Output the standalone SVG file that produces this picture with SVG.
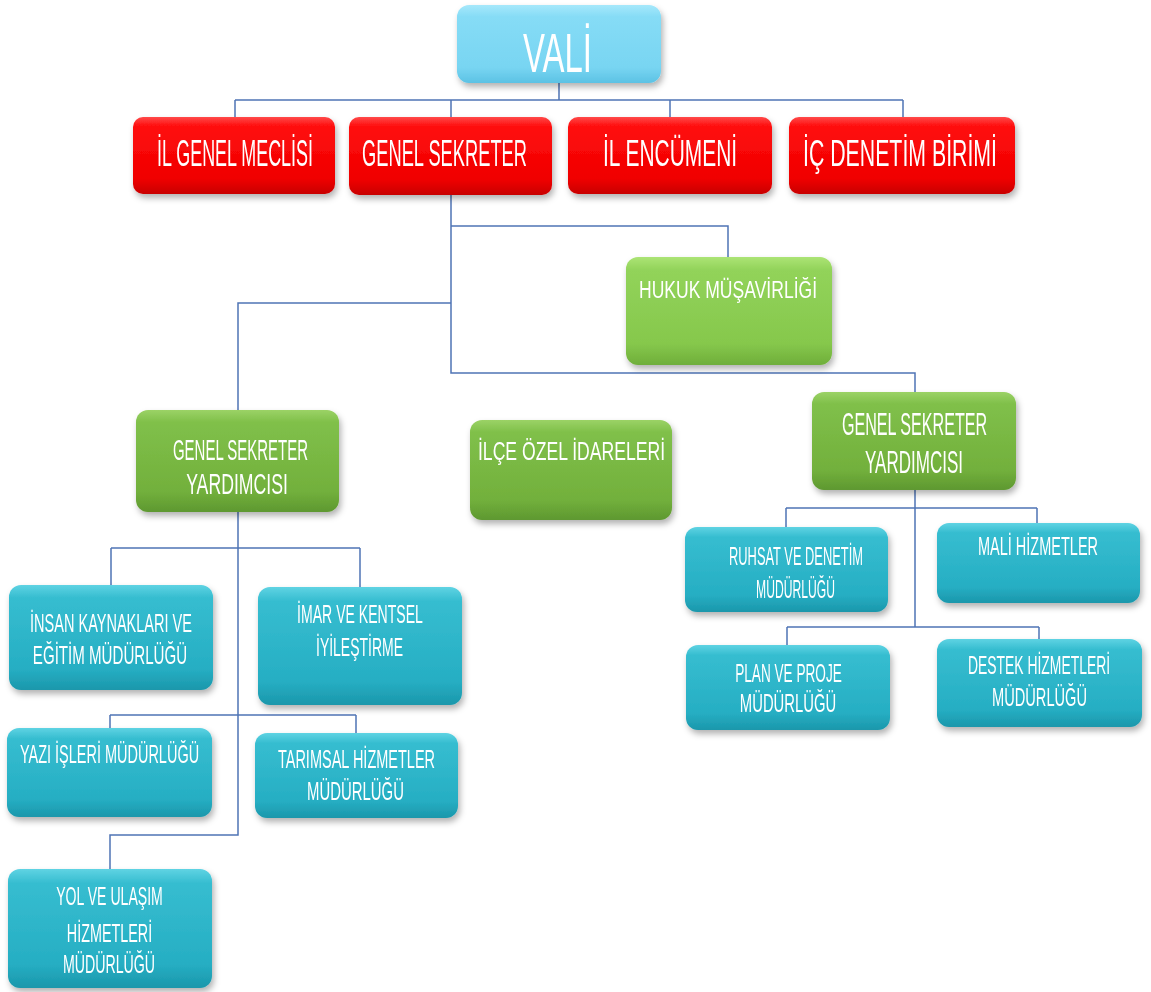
<svg xmlns="http://www.w3.org/2000/svg" width="1151" height="992" viewBox="0 0 1151 992">
<defs>
<linearGradient id="gRed" x1="0" y1="0" x2="0" y2="1"><stop offset="0" stop-color="#ff4a4a"/><stop offset="0.12" stop-color="#ff0d0d"/><stop offset="0.8" stop-color="#f00000"/><stop offset="1" stop-color="#c80000"/></linearGradient>
<linearGradient id="gBlue" x1="0" y1="0" x2="0" y2="1"><stop offset="0" stop-color="#5fd3e3"/><stop offset="0.12" stop-color="#36bdd0"/><stop offset="0.8" stop-color="#26aec3"/><stop offset="1" stop-color="#1b97ab"/></linearGradient>
<linearGradient id="gGreen" x1="0" y1="0" x2="0" y2="1"><stop offset="0" stop-color="#9bd266"/><stop offset="0.12" stop-color="#80c04a"/><stop offset="0.8" stop-color="#72b03c"/><stop offset="1" stop-color="#5e9830"/></linearGradient>
<linearGradient id="gLime" x1="0" y1="0" x2="0" y2="1"><stop offset="0" stop-color="#ace475"/><stop offset="0.12" stop-color="#92d35a"/><stop offset="0.8" stop-color="#86c84c"/><stop offset="1" stop-color="#6fae3a"/></linearGradient>
<linearGradient id="gSky" x1="0" y1="0" x2="0" y2="1"><stop offset="0" stop-color="#a6e8fb"/><stop offset="0.15" stop-color="#86dcf6"/><stop offset="0.8" stop-color="#78d5f2"/><stop offset="1" stop-color="#5cc2e4"/></linearGradient>
<filter id="sh" x="-10%" y="-10%" width="125%" height="135%"><feDropShadow dx="2" dy="4" stdDeviation="3" flood-color="#000" flood-opacity="0.3"/></filter>
</defs>
<style>
.conn{fill:none;stroke:#4f74b5;stroke-width:1.5}
.box{filter:url(#sh)}
.red{fill:url(#gRed)}
.blue{fill:url(#gBlue)}
.green{fill:url(#gGreen)}
.lime{fill:url(#gLime)}
.sky{fill:url(#gSky)}
text{font-family:"Liberation Sans",Arial,sans-serif;fill:#fff;text-anchor:middle}
.t56{font-size:56px}
.t36{font-size:36px}
.t32{font-size:32px}
.t30{font-size:30px}
.t26{font-size:26px}
.t25{font-size:25px}
.t24{font-size:24px}
</style>
<rect width="1151" height="992" fill="#fff"/>
<g id="connectors">
<path class="conn" d="M559,83 V100 M235,100 H903 M235,100 V117 M451,100 V117 M670,100 V117 M903,100 V117"/>
<path class="conn" d="M451,195 V373 H915 V392 M451,226 H728 V257 M451,303 H238 V410"/>
<path class="conn" d="M238,512 V835 H110 V869 M111,548 H360 M111,548 V585 M360,548 V587 M110,715 H356 M110,715 V728 M356,715 V733"/>
<path class="conn" d="M915,490 V627 M786,508 H1037 M786,508 V527 M1037,508 V523 M787,627 H1039 M787,627 V645 M1039,627 V639"/>
</g>
<g id="vali" class="box"><rect class="sky" x="457" y="5" width="204" height="78" rx="12"/><text class="t56" transform="translate(557.5,72) scale(0.57,1)" textLength="121" lengthAdjust="spacingAndGlyphs">VALİ</text></g>
<g id="il_genel_meclisi" class="box"><rect class="red" x="133" y="117" width="202" height="77" rx="10"/><text class="t36" transform="translate(235,166) scale(0.52,1)" textLength="300" lengthAdjust="spacingAndGlyphs">İL GENEL MECLİSİ</text></g>
<g id="genel_sekreter" class="box"><rect class="red" x="349" y="117" width="203" height="78" rx="10"/><text class="t36" transform="translate(444.5,166) scale(0.52,1)" textLength="317" lengthAdjust="spacingAndGlyphs">GENEL SEKRETER</text></g>
<g id="il_encumeni" class="box"><rect class="red" x="568" y="117" width="204" height="77" rx="10"/><text class="t36" transform="translate(670,166) scale(0.52,1)" textLength="258" lengthAdjust="spacingAndGlyphs">İL ENCÜMENİ</text></g>
<g id="ic_denetim_birimi" class="box"><rect class="red" x="789" y="117" width="226" height="77" rx="10"/><text class="t36" transform="translate(900,166) scale(0.52,1)" textLength="373" lengthAdjust="spacingAndGlyphs">İÇ DENETİM BİRİMİ</text></g>
<g id="hukuk_musavirligi" class="box"><rect class="lime" x="626" y="257" width="206" height="108" rx="12"/><text class="t24" transform="translate(728,298) scale(0.65,1)" textLength="274" lengthAdjust="spacingAndGlyphs">HUKUK MÜŞAVİRLİĞİ</text></g>
<g id="gsy_sol" class="box"><rect class="green" x="136" y="410" width="203" height="102" rx="12"/><text class="t30" transform="translate(240.5,460) scale(0.53,1)" textLength="255" lengthAdjust="spacingAndGlyphs">GENEL SEKRETER</text><text class="t30" transform="translate(237,494) scale(0.53,1)" textLength="192" lengthAdjust="spacingAndGlyphs">YARDIMCISI</text></g>
<g id="ilce_ozel_idareleri" class="box"><rect class="green" x="470" y="420" width="202" height="100" rx="12"/><text class="t26" transform="translate(571.5,460) scale(0.63,1)" textLength="297" lengthAdjust="spacingAndGlyphs">İLÇE ÖZEL İDARELERİ</text></g>
<g id="gsy_sag" class="box"><rect class="green" x="812" y="392" width="204" height="98" rx="12"/><text class="t32" transform="translate(914.5,435) scale(0.53,1)" textLength="274" lengthAdjust="spacingAndGlyphs">GENEL SEKRETER</text><text class="t32" transform="translate(914,473) scale(0.53,1)" textLength="185" lengthAdjust="spacingAndGlyphs">YARDIMCISI</text></g>
<g id="ruhsat_denetim" class="box"><rect class="blue" x="685" y="527" width="203" height="85" rx="12"/><text class="t25" transform="translate(796,565) scale(0.58,1)" textLength="231" lengthAdjust="spacingAndGlyphs">RUHSAT VE DENETİM</text><text class="t25" transform="translate(795.5,598) scale(0.58,1)" textLength="136" lengthAdjust="spacingAndGlyphs">MÜDÜRLÜĞÜ</text></g>
<g id="mali_hizmetler" class="box"><rect class="blue" x="937" y="523" width="203" height="80" rx="12"/><text class="t25" transform="translate(1038,555) scale(0.58,1)" textLength="207" lengthAdjust="spacingAndGlyphs">MALİ HİZMETLER</text></g>
<g id="plan_proje" class="box"><rect class="blue" x="686" y="645" width="204" height="85" rx="12"/><text class="t25" transform="translate(788.5,682) scale(0.58,1)" textLength="184" lengthAdjust="spacingAndGlyphs">PLAN VE PROJE</text><text class="t25" transform="translate(788,712) scale(0.58,1)" textLength="166" lengthAdjust="spacingAndGlyphs">MÜDÜRLÜĞÜ</text></g>
<g id="destek_hizmetleri" class="box"><rect class="blue" x="937" y="639" width="205" height="88" rx="12"/><text class="t25" transform="translate(1039,674) scale(0.58,1)" textLength="245" lengthAdjust="spacingAndGlyphs">DESTEK HİZMETLERİ</text><text class="t25" transform="translate(1039.5,706) scale(0.58,1)" textLength="164" lengthAdjust="spacingAndGlyphs">MÜDÜRLÜĞÜ</text></g>
<g id="insan_kaynaklari" class="box"><rect class="blue" x="9" y="585" width="204" height="105" rx="12"/><text class="t25" transform="translate(111,632) scale(0.58,1)" textLength="279" lengthAdjust="spacingAndGlyphs">İNSAN KAYNAKLARI VE</text><text class="t25" transform="translate(110,664) scale(0.58,1)" textLength="266" lengthAdjust="spacingAndGlyphs">EĞİTİM MÜDÜRLÜĞÜ</text></g>
<g id="imar_kentsel" class="box"><rect class="blue" x="258" y="587" width="204" height="118" rx="12"/><text class="t25" transform="translate(360,623) scale(0.58,1)" textLength="217" lengthAdjust="spacingAndGlyphs">İMAR VE KENTSEL</text><text class="t25" transform="translate(359.5,656) scale(0.58,1)" textLength="150" lengthAdjust="spacingAndGlyphs">İYİLEŞTİRME</text></g>
<g id="yazi_isleri" class="box"><rect class="blue" x="7" y="728" width="205" height="89" rx="12"/><text class="t25" transform="translate(109.5,763) scale(0.58,1)" textLength="309" lengthAdjust="spacingAndGlyphs">YAZI İŞLERİ MÜDÜRLÜĞÜ</text></g>
<g id="tarimsal_hizmetler" class="box"><rect class="blue" x="255" y="733" width="203" height="85" rx="12"/><text class="t25" transform="translate(356.5,768) scale(0.58,1)" textLength="271" lengthAdjust="spacingAndGlyphs">TARIMSAL HİZMETLER</text><text class="t25" transform="translate(355.5,800) scale(0.58,1)" textLength="167" lengthAdjust="spacingAndGlyphs">MÜDÜRLÜĞÜ</text></g>
<g id="yol_ulasim" class="box"><rect class="blue" x="8" y="869" width="204" height="119" rx="12"/><text class="t25" transform="translate(109.5,905) scale(0.58,1)" textLength="184" lengthAdjust="spacingAndGlyphs">YOL VE ULAŞIM</text><text class="t25" transform="translate(109.5,942) scale(0.58,1)" textLength="147" lengthAdjust="spacingAndGlyphs">HİZMETLERİ</text><text class="t25" transform="translate(109,973) scale(0.58,1)" textLength="159" lengthAdjust="spacingAndGlyphs">MÜDÜRLÜĞÜ</text></g>
</svg>
